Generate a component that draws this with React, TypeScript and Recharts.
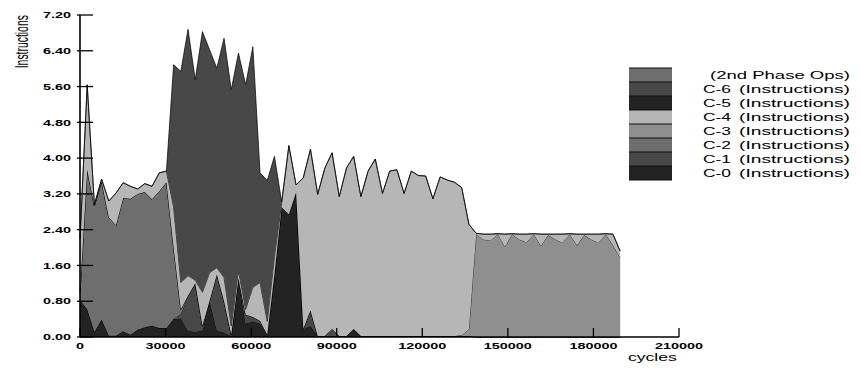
import React from "react";
import { AreaChart, Area, XAxis, YAxis } from "recharts";

// samples are taken every 2525 cycles
const STEP = 2525;

const c0 = [0.82, 0.62, 0.11, 0.39, 0.03, 0.03, 0.13, 0.05, 0.16, 0.22,
  0.25, 0.2, 0.2, 0.4, 0.42, 0.14, 0.12, 0.15, 0.81, 0.15,
  0.1, 0.02, 1.3, 0.3, 0.35, 0.3, 0.05, 1.4, 2.9, 2.74,
  3.23, 0.18, 0.25, 0.02, 0.02, 0.03, 0.02, 0.02, 0.18, 0.02,
  0.02, 0.02, 0.02, 0.02, 0.02, 0.02, 0.02, 0.02, 0.02, 0.02,
  0.02, 0.02, 0.02, 0.02, 0.02, 0, 0, 0, 0, 0,
  0, 0, 0, 0, 0, 0, 0, 0, 0, 0,
  0, 0, 0, 0, 0, 0];
const c1 = [0, 0, 0, 0, 0, 0, 0, 0, 0, 0,
  0, 0, 0, 0, 0.1, 0.78, 1.08, 0.1, 0, 1.25,
  0.7, 0.03, 0, 0.2, 0.1, 0.06, 0, 0, 0, 0,
  0, 0, 0.34, 0, 0, 0.15, 0, 0, 0, 0,
  0, 0, 0, 0, 0, 0, 0, 0, 0, 0,
  0, 0, 0, 0, 0, 0, 0, 0, 0, 0,
  0, 0, 0, 0, 0, 0, 0, 0, 0, 0,
  0, 0, 0, 0, 0, 0];
const c2 = [0.18, 3.12, 2.82, 3.09, 2.64, 2.47, 2.98, 3.04, 3.04, 3.02,
  2.83, 3.06, 3.26, 1.6, 0.1, 0, 0, 0, 0, 0,
  0, 0, 0, 0, 0, 0, 0, 0, 0, 0,
  0, 0, 0, 0, 0, 0, 0, 0, 0, 0,
  0, 0, 0, 0, 0, 0, 0, 0, 0, 0,
  0, 0, 0, 0, 0, 0, 0, 0, 0, 0,
  0, 0, 0, 0, 0, 0, 0, 0, 0, 0,
  0, 0, 0, 0, 0, 0];
const c3 = [0, 0, 0, 0, 0, 0, 0, 0, 0, 0,
  0, 0, 0, 0, 0, 0, 0, 0, 0, 0,
  0, 0, 0, 0, 0, 0, 0, 0, 0, 0,
  0, 0, 0, 0, 0, 0, 0, 0, 0, 0,
  0, 0, 0, 0, 0, 0, 0, 0, 0, 0,
  0, 0, 0, 0.02, 0.16, 2.3, 2.18, 2.16, 2.3, 2.02,
  2.3, 2.18, 2.12, 2.3, 2.04, 2.28, 2.18, 2.11, 2.3, 2.05,
  2.28, 2.18, 2.11, 2.3, 2.05, 1.78];
const c4 = [1.2, 1.9, 0.03, 0.05, 0.37, 0.72, 0.34, 0.28, 0.11, 0.19,
  0.29, 0.41, 0.25, 0.9, 0.6, 0.45, 0.07, 0.75, 0.63, 0.15,
  0.53, 0.2, 0.18, 0.12, 0.66, 0.86, 0.3, 0.4, 0.1, 1.54,
  0.17, 3.38, 3.61, 3.17, 3.76, 3.94, 3.12, 3.76, 3.86, 3.12,
  3.69, 3.96, 3.19, 3.69, 3.72, 3.19, 3.69, 3.59, 3.58, 3.07,
  3.56, 3.49, 3.44, 3.3, 2.34, 0.02, 0.12, 0.14, 0.01, 0.28,
  0.01, 0.12, 0.18, 0.01, 0.26, 0.02, 0.12, 0.19, 0.01, 0.25,
  0.02, 0.12, 0.19, 0.01, 0.25, 0.14];
const c5 = c0.map(() => 0);
const c6 = [0, 0, 0, 0, 0, 0, 0, 0, 0, 0,
  0, 0, 0, 3.19, 4.72, 5.51, 4.48, 5.83, 4.98, 4.46,
  5.35, 5.28, 4.87, 5.02, 5.38, 2.45, 3.15, 2.24, 0.02, 0,
  0, 0, 0, 0, 0, 0, 0, 0, 0, 0,
  0, 0, 0, 0, 0, 0, 0, 0, 0, 0,
  0, 0, 0, 0, 0, 0, 0, 0, 0, 0,
  0, 0, 0, 0, 0, 0, 0, 0, 0, 0,
  0, 0, 0, 0, 0, 0];
const phase2 = c0.map(() => 0);

const yTicks = [0, 0.8, 1.6, 2.4, 3.2, 4.0, 4.8, 5.6, 6.4, 7.2];
const xTicks = [0, 30000, 60000, 90000, 120000, 150000, 180000, 210000];

// bottom of the stack first
const series = [
  { key: "c0", name: "C-0", unit: "(Instructions)", color: "#232323", values: c0 },
  { key: "c1", name: "C-1", unit: "(Instructions)", color: "#484848", values: c1 },
  { key: "c2", name: "C-2", unit: "(Instructions)", color: "#6e6e6e", values: c2 },
  { key: "c3", name: "C-3", unit: "(Instructions)", color: "#8f8f8f", values: c3 },
  { key: "c4", name: "C-4", unit: "(Instructions)", color: "#b6b6b6", values: c4 },
  { key: "c5", name: "C-5", unit: "(Instructions)", color: "#232323", values: c5 },
  { key: "c6", name: "C-6", unit: "(Instructions)", color: "#484848", values: c6 },
  { key: "p2", name: "", unit: "(2nd Phase Ops)", color: "#6e6e6e", values: phase2 },
];

const data = c0.map((_, i) => {
  const row: Record<string, number> = { cycles: i * STEP };
  series.forEach((s) => (row[s.key] = s.values[i]));
  return row;
});

const FONT = "'Liberation Sans', Arial, sans-serif";
const AXIS_X = 80;
const AXIS_Y = 337;

const YTick = (props: any) => {
  const { y, payload } = props;
  return (
    <g>
      <line x1={AXIS_X - 3} x2={AXIS_X + 13} y1={y} y2={y} stroke="#000" strokeWidth={1.3} />
      <text transform={`translate(71 ${y + 3.2}) scale(1.6 1)`} textAnchor="end"
        fontFamily={FONT} fontWeight="bold" fontSize={9} fill="#000">
        {Number(payload.value).toFixed(2)}
      </text>
    </g>
  );
};

const XTick = (props: any) => {
  const { x, payload } = props;
  return (
    <g>
      <line x1={x} x2={x} y1={AXIS_Y} y2={AXIS_Y - 9} stroke="#000" strokeWidth={1.3} />
      <text transform={`translate(${x} 349) scale(1.6 1)`} textAnchor="middle"
        fontFamily={FONT} fontWeight="bold" fontSize={9} fill="#000">
        {payload.value}
      </text>
    </g>
  );
};

const legendRows = [...series].reverse();

export default function App() {
  return (
    <div style={{ position: "absolute", left: 0, top: 0, width: 860, height: 369, background: "#fff" }}>
      <AreaChart width={860} height={369} data={data} margin={{ top: 15, right: 181, bottom: 10, left: 10 }}>
        {series.map((s) => {
          const empty = s.values.every((v) => v === 0);
          return (
            <Area key={s.key} type="linear" dataKey={s.key} stackId="1" stroke={empty ? "none" : "#000"}
              strokeWidth={0.7} fill={s.color} fillOpacity={1} dot={false} activeDot={false}
              isAnimationActive={false} />
          );
        })}
        <XAxis dataKey="cycles" type="number" domain={[0, 210000]} ticks={xTicks} interval={0}
          height={22} tickLine={false} axisLine={{ stroke: "#000", strokeWidth: 1.6 }} tick={(p: any) => <XTick {...p} />} />
        <YAxis type="number" domain={[0, 7.2]} ticks={yTicks} interval={0} width={70}
          tickLine={false} axisLine={{ stroke: "#000", strokeWidth: 1.6 }} tick={(p: any) => <YTick {...p} />} />
      </AreaChart>
      <svg width={860} height={369} style={{ position: "absolute", left: 0, top: 0, pointerEvents: "none" }}>
        <text transform="translate(28 41.7) scale(1.7 1) rotate(-90)" textAnchor="middle"
          fontFamily={FONT} fontSize={10.4} fill="#000">Instructions</text>
        <text transform="translate(628 361) scale(1.6 1)" fontFamily={FONT} fontSize={11} fill="#000">cycles</text>
        {legendRows.map((s, i) => {
          const top = 68 + i * 14;
          const cy = top + 7;
          return (
            <g key={s.key}>
              <rect x={629} y={top} width={43} height={14} fill={s.color} />
              <line x1={629} x2={672} y1={top} y2={top} stroke="#111" strokeWidth={1} />
              {s.name ? (
                <>
                  <text x={703} y={cy + 3.7} textLength={28} lengthAdjust="spacingAndGlyphs"
                    fontFamily={FONT} fontSize={10} fill="#000">{s.name}</text>
                  <text x={739} y={cy + 3.7} textLength={111} lengthAdjust="spacingAndGlyphs"
                    fontFamily={FONT} fontSize={10} fill="#000">{s.unit}</text>
                </>
              ) : (
                <text x={710} y={cy + 3.7} textLength={140} lengthAdjust="spacingAndGlyphs"
                  fontFamily={FONT} fontSize={10} fill="#000">{s.unit}</text>
              )}
            </g>
          );
        })}
        <line x1={629} x2={672} y1={180} y2={180} stroke="#111" strokeWidth={1} />
      </svg>
    </div>
  );
}
